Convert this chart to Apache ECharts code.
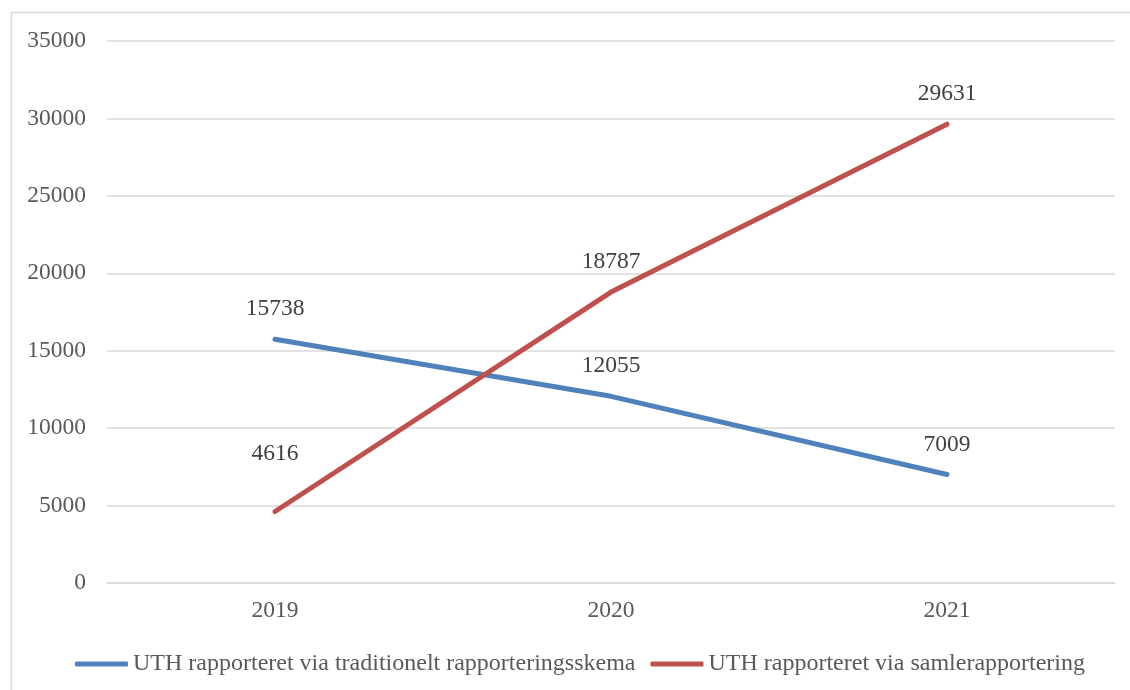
<!DOCTYPE html>
<html>
<head>
<meta charset="utf-8">
<script src="https://cdn.jsdelivr.net/npm/echarts@6/dist/echarts.min.js"></script>
<style>html,body{margin:0;padding:0;background:#fff}#c{width:1130px;height:690px}</style>
</head>
<body>
<div id="c"></div>
<script>
const categories = ['2019', '2020', '2021'];
const seriesNames = ['UTH rapporteret via traditionelt rapporteringsskema', 'UTH rapporteret via samlerapportering'];
const traditionel = [15738, 12055, 7009];
const samle = [4616, 18787, 29631];
const yTicks = { min: 0, max: 35000, interval: 5000 };

const font = '"Liberation Serif", "Times New Roman", serif';
const chart = echarts.init(document.getElementById('c'));
const lbl = { show: true, position: 'top', distance: 18, fontFamily: font, fontSize: 23.5, color: '#404040' };
// the first red label sits higher in the reference
const samleData = samle.map((v, i) => i === 0 ? { value: v, label: { distance: 46 } } : v);
chart.setOption({
  backgroundColor: '#fff',
  animation: false,
  graphic: [{
    type: 'rect', left: 9, top: 10, shape: { width: 1140, height: 700 },
    style: { fill: 'none', stroke: '#d9d9d9', lineWidth: 1.5 }, silent: true
  }],
  grid: { left: 107, right: 15, top: 41, bottom: 107, containLabel: false },
  legend: {
    top: 652, left: 75, padding: 0,
    itemWidth: 53, itemHeight: 5, itemGap: 15,
    icon: 'roundRect',
    textStyle: { fontFamily: font, fontSize: 24, color: '#595959' },
    data: seriesNames
  },
  xAxis: {
    type: 'category', data: categories, boundaryGap: true,
    axisLine: { show: true, lineStyle: { color: '#d9d9d9', width: 1.5 } },
    axisTick: { show: false },
    axisLabel: { fontFamily: font, fontSize: 23.5, color: '#595959', margin: 16 }
  },
  yAxis: {
    type: 'value', min: yTicks.min, max: yTicks.max, interval: yTicks.interval,
    axisLine: { show: false }, axisTick: { show: false },
    splitLine: { lineStyle: { color: '#d9d9d9', width: 1.5 } },
    axisLabel: { fontFamily: font, fontSize: 23.5, color: '#595959', margin: 21, formatter: v => String(v) }
  },
  series: [
    {
      name: seriesNames[0], type: 'line', data: traditionel,
      symbol: 'circle', symbolSize: 0, showSymbol: true,
      lineStyle: { color: '#4f81bd', width: 5, cap: 'round' },
      itemStyle: { color: '#4f81bd' },
      label: lbl
    },
    {
      name: seriesNames[1], type: 'line', data: samleData,
      symbol: 'circle', symbolSize: 0, showSymbol: true,
      lineStyle: { color: '#c0504d', width: 5, cap: 'round' },
      itemStyle: { color: '#c0504d' },
      label: lbl
    }
  ]
});
</script>
</body>
</html>
